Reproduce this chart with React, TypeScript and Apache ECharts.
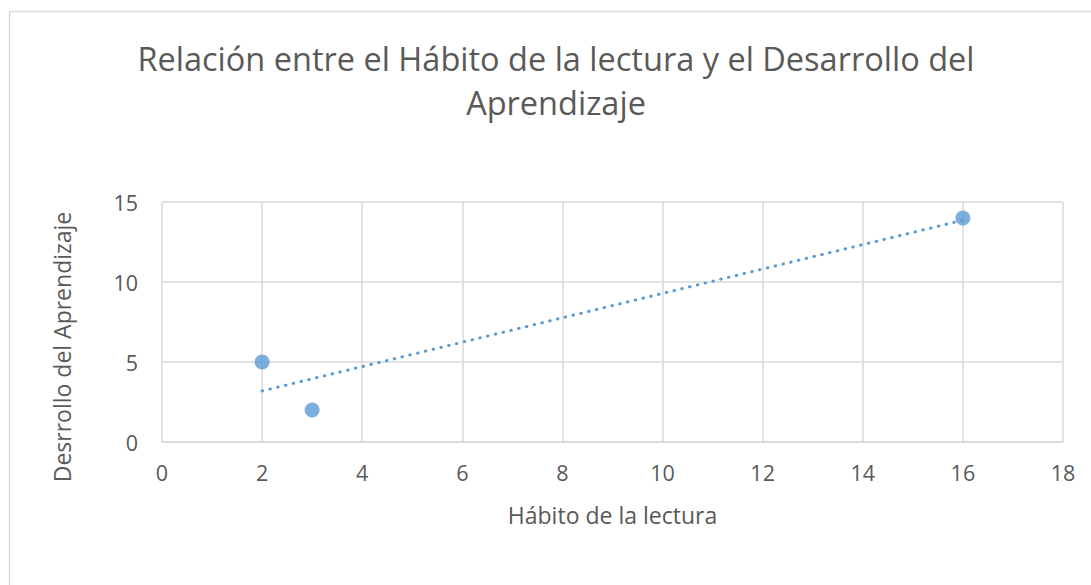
import React, { useEffect, useRef } from "react";
import * as echarts from "echarts";

const TITLE_LINES = ["Relación entre el Hábito de la lectura y el Desarrollo del", "Aprendizaje"];
const X_NAME = "Hábito de la lectura";
const Y_NAME = "Desrrollo del Aprendizaje";
const habito = [2, 3, 16];
const desarrollo = [5, 2, 14];
const X_MIN = 0, X_MAX = 18, X_STEP = 2;
const Y_MIN = 0, Y_MAX = 15, Y_STEP = 5;

const BLUE = "#5b9bd5";
const TEXT = "#595959";
const GRID = "#d9d9d9";
const FONT = "'Open Sans', 'Liberation Sans', sans-serif";

function regression(xs: number[], ys: number[]) {
  const n = xs.length;
  const mx = xs.reduce((a, b) => a + b, 0) / n;
  const my = ys.reduce((a, b) => a + b, 0) / n;
  let sxy = 0, sxx = 0;
  for (let i = 0; i < n; i++) {
    sxy += (xs[i] - mx) * (ys[i] - my);
    sxx += (xs[i] - mx) * (xs[i] - mx);
  }
  const slope = sxy / sxx;
  const intercept = my - slope * mx;
  return { slope, intercept };
}

export default function App() {
  const ref = useRef<HTMLDivElement>(null);
  useEffect(() => {
    if (!ref.current) return;
    const chart = echarts.init(ref.current, undefined, { renderer: "svg" });
    const { slope, intercept } = regression(habito, desarrollo);
    const xLo = Math.min(...habito);
    const xHi = Math.max(...habito);
    const trend = [xLo, xHi].map((x) => [x, intercept + slope * x]);
    chart.setOption({
      animation: false,
      backgroundColor: "#ffffff",
      textStyle: { fontFamily: FONT },
      grid: { left: 162, right: 28, top: 202, bottom: 143 },
      xAxis: {
        type: "value",
        min: X_MIN,
        max: X_MAX,
        interval: X_STEP,
        name: X_NAME,
        nameLocation: "middle",
        nameGap: 61,
        nameTextStyle: { color: TEXT, fontSize: 23, fontFamily: FONT },
        axisLine: { show: true, lineStyle: { color: GRID, width: 1.5 } },
        axisTick: { show: false },
        axisLabel: { color: TEXT, fontSize: 21.5, margin: 19, fontFamily: FONT },
        splitLine: { show: true, lineStyle: { color: GRID, width: 1.5 } },
      },
      yAxis: {
        type: "value",
        min: Y_MIN,
        max: Y_MAX,
        interval: Y_STEP,
        axisLine: { show: false },
        axisTick: { show: false },
        axisLabel: { color: TEXT, fontSize: 21.5, margin: 24, fontFamily: FONT },
        splitLine: { show: true, lineStyle: { color: GRID, width: 1.5 } },
      },
      graphic: [
        {
          type: "rect",
          shape: { x: 9.5, y: 11.5, width: 1200, height: 700 },
          style: { fill: "none", stroke: GRID, lineWidth: 1.5 },
          silent: true,
        },
        {
          type: "text",
          x: 556,
          y: 58,
          style: {
            text: TITLE_LINES[0],
            fill: TEXT,
            font: `32.5px ${FONT}`,
            textAlign: "center",
            textVerticalAlign: "middle",
          },
        },
        {
          type: "text",
          x: 556,
          y: 102,
          style: {
            text: TITLE_LINES[1],
            fill: TEXT,
            font: `32.5px ${FONT}`,
            textAlign: "center",
            textVerticalAlign: "middle",
          },
        },
        {
          type: "text",
          x: 62,
          y: 347,
          rotation: Math.PI / 2,
          style: {
            text: Y_NAME,
            fill: TEXT,
            font: `23px ${FONT}`,
            textAlign: "center",
            textVerticalAlign: "middle",
          },
        },
      ],
      series: [
        {
          type: "line",
          data: trend,
          symbol: "none",
          lineStyle: { color: BLUE, width: 3, type: [0.5, 7.5], cap: "round" },
          z: 2,
        },
        {
          type: "scatter",
          data: habito.map((x, i) => [x, desarrollo[i]]),
          symbol: "circle",
          symbolSize: 15,
          itemStyle: { color: BLUE },
          z: 3,
        },
      ],
    });
    return () => chart.dispose();
  }, []);
  return <div ref={ref} style={{ width: 1091, height: 585, position: "absolute", left: 0, top: 0 }} />;
}
